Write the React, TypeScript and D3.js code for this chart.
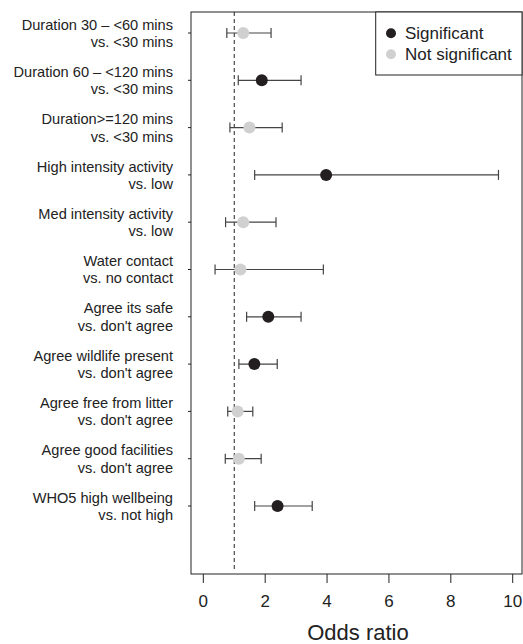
import * as d3 from "d3";
import React from "react";

// labels, two lines each
const labels = [
  ["Duration 30 – <60 mins", "vs. <30 mins"],
  ["Duration 60 – <120 mins", "vs. <30 mins"],
  ["Duration>=120 mins", "vs. <30 mins"],
  ["High intensity activity", "vs. low"],
  ["Med intensity activity", "vs. low"],
  ["Water contact", "vs. no contact"],
  ["Agree its safe", "vs. don't agree"],
  ["Agree wildlife present", "vs. don't agree"],
  ["Agree free from litter", "vs. don't agree"],
  ["Agree good facilities", "vs. don't agree"],
  ["WHO5 high wellbeing", "vs. not high"],
];
const oddsRatio = [1.29, 1.89, 1.49, 3.97, 1.29, 1.2, 2.1, 1.65, 1.11, 1.15, 2.4];
const lower = [0.76, 1.13, 0.86, 1.66, 0.72, 0.38, 1.4, 1.15, 0.79, 0.71, 1.66];
const upper = [2.19, 3.16, 2.55, 9.54, 2.35, 3.88, 3.16, 2.39, 1.6, 1.87, 3.52];
const significant = [false, true, false, true, false, false, true, true, false, false, true];
const xTicks = [0, 2, 4, 6, 8, 10];

const width = 523;
const height = 644;
const box = { left: 191, right: 522, top: 12, bottom: 574 };
const dark = "#231f20";
const light = "#d0d0d0";
const font = "Liberation Sans, Arial, Helvetica, sans-serif";

export default function App() {
  const x = d3.scaleLinear().domain([0, 10]).range([203.3, 512.7]);
  const y = d3.scaleLinear().domain([0, labels.length - 1]).range([33, 506]);

  return (
    <svg
      width={width}
      height={height}
      style={{ position: "absolute", left: 0, top: 0, fontFamily: font }}
    >
      <rect
        x={box.left}
        y={box.top}
        width={box.right - box.left}
        height={box.bottom - box.top}
        fill="none"
        stroke="#222"
        strokeWidth={1}
      />
      {/* reference line at OR = 1 */}
      <line
        x1={x(1)}
        x2={x(1)}
        y1={box.top}
        y2={box.bottom - 4}
        stroke="#222"
        strokeDasharray="4,3"
      />
      {/* y ticks and labels */}
      {labels.map((l, i) => (
        <g key={i}>
          <line x1={box.left - 3} x2={box.left} y1={y(i)} y2={y(i)} stroke="#222" />
          <text x={173} y={y(i) - 8.5} dy="0.35em" textAnchor="end" fontSize={14.6} fill="#222">
            {l[0]}
          </text>
          <text x={173} y={y(i) + 8.8} dy="0.35em" textAnchor="end" fontSize={14.6} fill="#222">
            {l[1]}
          </text>
        </g>
      ))}
      {/* error bars */}
      {oddsRatio.map((d, i) => (
        <g key={i} stroke="#444" strokeWidth={1.2}>
          <line x1={x(lower[i])} x2={x(upper[i])} y1={y(i)} y2={y(i)} />
          <line x1={x(lower[i])} x2={x(lower[i])} y1={y(i) - 5} y2={y(i) + 5} />
          <line x1={x(upper[i])} x2={x(upper[i])} y1={y(i) - 5} y2={y(i) + 5} />
        </g>
      ))}
      {oddsRatio.map((d, i) => (
        <circle key={i} cx={x(d)} cy={y(i)} r={6} fill={significant[i] ? dark : light} />
      ))}
      {/* x axis */}
      {xTicks.map((t) => (
        <g key={t}>
          <line x1={x(t)} x2={x(t)} y1={box.bottom} y2={box.bottom + 9} stroke="#222" />
          <text x={x(t)} y={601.5} dy="0.35em" textAnchor="middle" fontSize={17} fill="#222">
            {t}
          </text>
        </g>
      ))}
      <text x={358} y={640} textAnchor="middle" fontSize={22} fill="#222">
        Odds ratio
      </text>
      {/* legend */}
      <rect x={375.7} y={box.top} width={box.right - 375.7} height={75 - box.top} fill="#fff" stroke="#222" />
      <circle cx={391} cy={33.3} r={5} fill={dark} />
      <text x={405} y={33.3} dy="0.35em" fontSize={17} fill="#222">Significant</text>
      <circle cx={391} cy={54.3} r={5} fill={light} />
      <text x={405} y={54.3} dy="0.35em" fontSize={17} fill="#222">Not significant</text>
    </svg>
  );
}
